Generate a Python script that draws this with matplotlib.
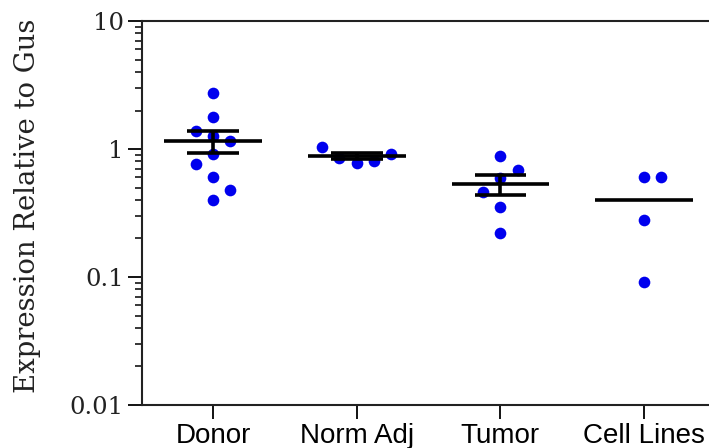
import matplotlib
matplotlib.use("Agg")
import matplotlib.pyplot as plt
import numpy as np

# Expression values (relative to Gus)
groups = ["Donor", "Norm Adj", "Tumor", "Cell Lines"]
donor = [2.75, 1.79, 1.38, 1.27, 1.15, 0.91, 0.77, 0.60, 0.48, 0.40]
norm_adj = [1.04, 0.85, 0.78, 0.81, 0.92]
tumor = [0.89, 0.685, 0.59, 0.46, 0.35, 0.222]
cell_lines = [0.608, 0.608, 0.279, 0.092]
values = [donor, norm_adj, tumor, cell_lines]

# horizontal jitter of each dot (scatter-plot layout)
donor_dx = [0, 0, -1, 0, 1, 0, -1, 0, 1, 0]
norm_adj_dx = [-2, -1, 0, 1, 2]
tumor_dx = [0, 1, 0, -1, 0, 0]
cell_lines_dx = [0, 1, 0, 0]
offsets = [donor_dx, norm_adj_dx, tumor_dx, cell_lines_dx]
show_sem = [True, True, True, False]

fig = plt.figure(figsize=(7.09, 4.48), dpi=100)
ax = fig.add_axes([0.2003, 0.096, 0.7997, 0.857])

step = 0.12
for i, (vals, dx) in enumerate(zip(values, offsets)):
    x0 = i + 1
    v = np.array(vals)
    xs = x0 + step * np.array(dx)
    ax.plot(xs, v, "o", color="#0000ee", markersize=8.4, markeredgewidth=0, zorder=3)
    mean = v.mean()
    ax.hlines(mean, x0 - 0.34, x0 + 0.34, color="black", linewidth=2.6, zorder=4)
    if show_sem[i]:
        sem = v.std(ddof=1) / np.sqrt(len(v))
        ax.hlines([mean - sem, mean + sem], x0 - 0.18, x0 + 0.18,
                  color="black", linewidth=2.6, zorder=4)
        ax.vlines(x0, mean - sem, mean + sem, color="black", linewidth=2.6, zorder=4)

ax.set_yscale("log")
ax.set_ylim(0.01, 10)
ax.set_xlim(0.506, 4.452)
ax.set_yticks([0.01, 0.1, 1, 10])
ax.set_yticklabels(["0.01", "0.1", "1", "10"], family="DejaVu Serif", fontsize=17.5,
                   color="#222222")
ax.set_xticks(range(1, len(groups) + 1))
ax.set_xticklabels(groups, family="Liberation Sans", fontsize=20)

ax.tick_params(axis="y", which="major", direction="out", length=10, width=1.3, pad=3)
ax.tick_params(axis="y", which="minor", direction="out", length=5, width=1.1)
ax.tick_params(axis="x", direction="out", length=10, width=1.3, pad=3)

for s in ["left", "bottom", "top"]:
    ax.spines[s].set_linewidth(1.5)
    ax.spines[s].set_color("#222222")
ax.spines["right"].set_visible(False)

ax.set_ylabel("Expression Relative to Gus", family="DejaVu Serif", fontsize=19.8,
              color="#222222")
ax.yaxis.set_label_coords(-0.178, 0.52)

fig.savefig("out.png", dpi=100)
